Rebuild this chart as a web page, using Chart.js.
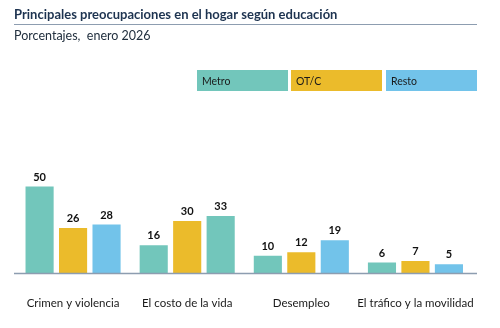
<!DOCTYPE html>
<html><head><meta charset="utf-8">
<script src="https://cdn.jsdelivr.net/npm/chart.js@4"></script>
<style>html,body{margin:0;padding:0;background:#fff}#w{width:500px;height:328px}</style>
</head><body><div id="w"><canvas id="c"></canvas></div>
<script>
const categories = ["Crimen y violencia","El costo de la vida","Desempleo","El tráfico y la movilidad"];
const metro = [50,16,10,6];
const otc = [26,30,12,7];
const resto = [28,33,19,5];
const seriesNames = ["Metro","OT/C","Resto"];
const TEAL="#72C6BB", YEL="#EBBB2B", BLUE="#72C3EA";
const restoColors = [BLUE, TEAL, BLUE, BLUE];

const deco = {
  id:'deco',
  afterDraw(chart){
    const ctx = chart.ctx, ca = chart.chartArea;
    ctx.save();
    ctx.textBaseline='alphabetic'; ctx.textAlign='left';
    ctx.fillStyle='#1d3350';
    ctx.font='bold 13px Lato';
    ctx.fillText('Principales preocupaciones en el hogar según educación',14,19);
    ctx.strokeStyle='#8d9db0'; ctx.lineWidth=1.2;
    ctx.beginPath(); ctx.moveTo(14,24.5); ctx.lineTo(477,24.5); ctx.stroke();
    ctx.font='12.5px Lato'; ctx.fillStyle='#22303f';
    ctx.fillText('Porcentajes,  enero 2026',14,40);
    const cols=[TEAL,YEL,BLUE], xs=[197,291,386];
    ctx.font='10.5px Lato'; ctx.textBaseline='middle';
    seriesNames.forEach((n,i)=>{
      ctx.fillStyle=cols[i]; ctx.fillRect(xs[i],70,91,21);
      ctx.fillStyle='#1a1a1a'; ctx.fillText(n,xs[i]+5,81.5);
    });
    ctx.strokeStyle='#8d9db0'; ctx.lineWidth=1.5;
    ctx.beginPath(); ctx.moveTo(14,ca.bottom+0.5); ctx.lineTo(477,ca.bottom+0.5); ctx.stroke();
    ctx.font='bold 11px Lato'; ctx.fillStyle='#111'; ctx.textAlign='center'; ctx.textBaseline='alphabetic';
    chart.data.datasets.forEach((ds,di)=>{
      chart.getDatasetMeta(di).data.forEach((bar,j)=>{
        ctx.fillText(String(ds.data[j]), bar.x, bar.y-6);
      });
    });
    ctx.restore();
  }
};

new Chart(document.getElementById('c'),{
  type:'bar',
  data:{labels:categories,datasets:[
    {label:seriesNames[0],data:metro,backgroundColor:TEAL},
    {label:seriesNames[1],data:otc,backgroundColor:YEL},
    {label:seriesNames[2],data:resto,backgroundColor:restoColors}
  ]},
  options:{
    responsive:true,maintainAspectRatio:false,animation:false,
    layout:{padding:{left:16,right:27,top:100,bottom:0}},
    categoryPercentage:0.88,barPercentage:0.84,
    plugins:{legend:{display:false},tooltip:{enabled:false}},
    scales:{
      x:{grid:{display:false,drawTicks:false},border:{display:false},
         afterFit(s){s.height=55;},
         ticks:{padding:23,color:'#1a1a1a',font:{family:'Lato',size:11.5},maxRotation:0,autoSkip:false}},
      y:{display:false,min:0,max:100}
    }
  },
  plugins:[deco]
});
</script></body></html>
